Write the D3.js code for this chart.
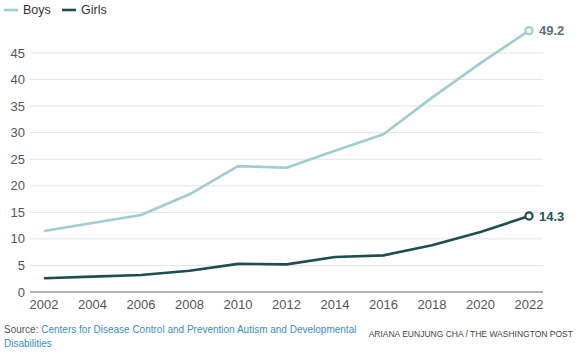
<!DOCTYPE html>
<html><head><meta charset="utf-8">
<script src="https://cdn.jsdelivr.net/npm/d3@7"></script>
<style>
body{margin:0;background:#fff;font-family:"Liberation Sans",Arial,sans-serif;}
</style></head>
<body><svg id="c" width="580" height="356"></svg>
<script>
const years = [2002,2004,2006,2008,2010,2012,2014,2016,2018,2020,2022];
const boys  = [11.5,13.0,14.5,18.4,23.7,23.4,26.6,29.7,36.6,43.1,49.2];
const girls = [2.6,2.9,3.2,4.0,5.3,5.2,6.6,6.9,8.8,11.3,14.3];
const yTicks = [0,5,10,15,20,25,30,35,40,45];
const seriesNames = ["Boys","Girls"];
const colors = ["#9dcdd0","#1e4e52"];
const labelColors = ["#56737b","#23555a"];

const svg = d3.select("#c");
const x = d3.scaleLinear().domain([2002,2022]).range([44,529]);
const y = d3.scaleLinear().domain([0,45]).range([292,53]);

// grid
const g = svg.append("g");
g.selectAll("line.grid").data(yTicks.filter(d=>d>0)).join("line")
  .attr("x1",30).attr("x2",543).attr("y1",d=>y(d)).attr("y2",d=>y(d))
  .attr("stroke","#e3e3e3").attr("stroke-width",1);
g.append("line").attr("x1",30).attr("x2",543).attr("y1",y(0)).attr("y2",y(0))
  .attr("stroke","#999").attr("stroke-width",1.5);
g.selectAll("text.yl").data(yTicks).join("text")
  .attr("x",25).attr("y",d=>y(d)+4.5).attr("text-anchor","end")
  .attr("font-size",13).attr("fill","#555").text(d=>d);
g.selectAll("text.xl").data(years).join("text")
  .attr("x",d=>x(d)).attr("y",309).attr("text-anchor","middle")
  .attr("font-size",13).attr("fill","#555").text(d=>d);

const line = d3.line().x((d,i)=>x(years[i])).y(d=>y(d)).curve(d3.curveLinear);
[boys,girls].forEach((s,k)=>{
  svg.append("path").attr("d",line(s)).attr("fill","none")
    .attr("stroke",colors[k]).attr("stroke-width",2.6).attr("stroke-linejoin","round");
  const last = s[s.length-1];
  svg.append("circle").attr("cx",x(years[years.length-1])).attr("cy",y(last)).attr("r",3.6)
    .attr("fill","#fff").attr("stroke",colors[k]).attr("stroke-width",2.2);
  svg.append("text").attr("x",x(years[years.length-1])+10).attr("y",y(last)+4.5)
    .attr("font-size",13).attr("font-weight","bold").attr("fill",labelColors[k]).text(last.toFixed(1));
});

// legend
const legX = [4,62];
seriesNames.forEach((n,k)=>{
  svg.append("line").attr("x1",legX[k]).attr("x2",legX[k]+14).attr("y1",10).attr("y2",10)
    .attr("stroke",colors[k]).attr("stroke-width",2.6);
  svg.append("text").attr("x",legX[k]+19).attr("y",14).attr("font-size",12.5).attr("fill","#333").text(n);
});

// source
const src = svg.append("text").attr("x",4).attr("y",333).attr("font-size",10);
src.append("tspan").attr("fill","#555").text("Source: ");
src.append("tspan").attr("fill","#3b8dbf").text("Centers for Disease Control and Prevention Autism and Developmental");
svg.append("text").attr("x",4).attr("y",347).attr("font-size",10).attr("fill","#3b8dbf").text("Disabilities");
svg.append("text").attr("x",573).attr("y",337).attr("text-anchor","end")
  .attr("font-size",8.5).attr("fill","#444")
  .text("ARIANA EUNJUNG CHA / THE WASHINGTON POST");
</script></body></html>
